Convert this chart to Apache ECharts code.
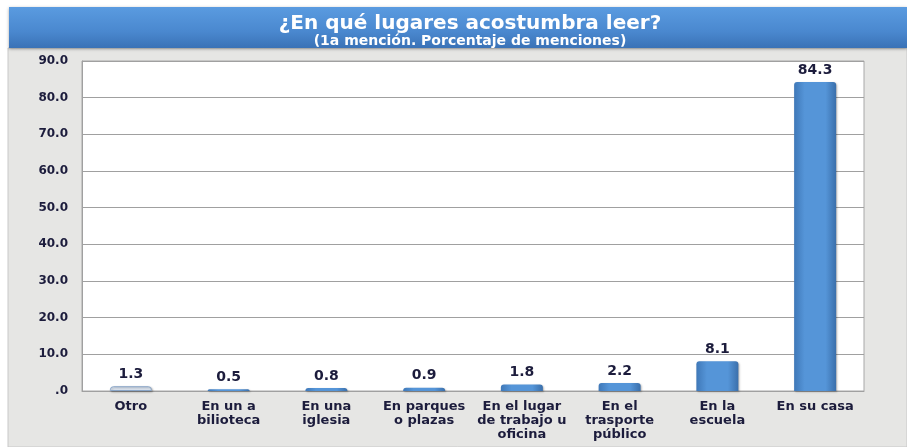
<!DOCTYPE html>
<html>
<head>
<meta charset="utf-8">
<script src="https://cdn.jsdelivr.net/npm/echarts@6/dist/echarts.min.js"></script>
<style>
  html, body { margin: 0; padding: 0; background: #fff; }
  #myChart { width: 907px; height: 447px; }
</style>
</head>
<body>
<div id="myChart"></div>
<script>
// datos
var categorias = ['Otro', 'En un a\nbilioteca', 'En una\niglesia', 'En parques\no plazas',
  'En el lugar\nde trabajo u\noficina', 'En el\ntrasporte\npúblico', 'En la\nescuela', 'En su casa'];
var valores = [1.3, 0.5, 0.8, 0.9, 1.8, 2.2, 8.1, 84.3];
var ticksY = [0, 10, 20, 30, 40, 50, 60, 70, 80, 90];

var fuente = '"DejaVu Sans", Verdana, sans-serif';
var azul = new echarts.graphic.LinearGradient(0, 0, 1, 0, [
  { offset: 0, color: '#3f78b8' },
  { offset: 0.25, color: '#5595d8' },
  { offset: 0.75, color: '#5595d8' },
  { offset: 1, color: '#3a6fab' }
]);

var myChart = echarts.init(document.getElementById('myChart'));
myChart.setOption({
  backgroundColor: '#fff',
  animation: false,
  graphic: [
    // fondo gris
    { type: 'rect', z: -10, shape: { x: 8, y: 48, width: 899, height: 399 },
      style: { fill: '#e6e6e4', stroke: '#c8c8c8' } },
    // banda del titulo
    { type: 'rect', z: -9, shape: { x: 9, y: 7, width: 898, height: 41 },
      style: {
        fill: new echarts.graphic.LinearGradient(0, 0, 0, 1, [
          { offset: 0, color: '#5a9be0' },
          { offset: 0.6, color: '#4a88cf' },
          { offset: 1, color: '#3a72b6' }
        ]),
        shadowColor: 'rgba(0,0,0,0.35)', shadowBlur: 3, shadowOffsetY: 1
      } }
  ],
  title: {
    text: '¿En qué lugares acostumbra leer?',
    subtext: '(1a mención. Porcentaje de menciones)',
    left: 465, textAlign: 'center', top: 8, itemGap: 0,
    textStyle: { color: '#fff', fontFamily: fuente, fontWeight: 'bold', fontSize: 20, lineHeight: 21 },
    subtextStyle: { color: '#fff', fontFamily: fuente, fontWeight: 'bold', fontSize: 14, lineHeight: 14 }
  },
  grid: {
    left: 82, right: 43, top: 61, bottom: 56,
    show: true, backgroundColor: '#fff', borderColor: '#a8a8a8', borderWidth: 1
  },
  xAxis: {
    type: 'category',
    data: categorias,
    axisLine: { lineStyle: { color: '#a0a0a0' } },
    axisTick: { show: false },
    axisLabel: {
      interval: 0, margin: 9, lineHeight: 14,
      color: '#1c1c3c', fontFamily: fuente, fontWeight: 'bold', fontSize: 13
    }
  },
  yAxis: {
    type: 'value',
    min: ticksY[0], max: ticksY[ticksY.length - 1], interval: 10,
    axisLine: { show: true, lineStyle: { color: '#a0a0a0' } },
    axisTick: { show: false },
    splitLine: { lineStyle: { color: '#a0a0a0' } },
    axisLabel: {
      margin: 14,
      color: '#1c1c3c', fontFamily: fuente, fontWeight: 'bold', fontSize: 12,
      formatter: function (v) { return v === 0 ? '.0' : v.toFixed(1); }
    }
  },
  series: [{
    type: 'bar',
    barWidth: 42,
    data: valores.map(function (v, i) {
      return {
        value: v,
        itemStyle: i === 0
          ? { color: '#dfe8f3', borderColor: '#8aa6c8', borderWidth: 1 }
          : { color: azul }
      };
    }),
    itemStyle: {
      borderRadius: [3, 3, 0, 0],
      shadowColor: 'rgba(0,0,0,0.3)', shadowBlur: 2, shadowOffsetX: 1, shadowOffsetY: 1
    },
    label: {
      show: true, position: 'top', distance: 5,
      color: '#1c1c3c', fontFamily: fuente, fontWeight: 'bold', fontSize: 14,
      formatter: function (p) { return p.value.toFixed(1); }
    }
  }]
});
</script>
</body>
</html>
